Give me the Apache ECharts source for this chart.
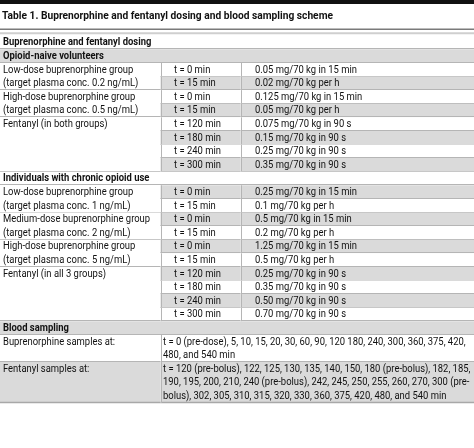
<!DOCTYPE html>
<html>
<head>
<meta charset="utf-8">
<script src="https://cdn.jsdelivr.net/npm/echarts@6/dist/echarts.min.js"></script>
<style>html,body{margin:0;padding:0;background:#fff}#c{width:474px;height:448px}</style>
</head>
<body>
<div id="c"></div>
<script>
// ---- content ----
const tableTitle = "Table 1. Buprenorphine and fentanyl dosing and blood sampling scheme";
const dosingHeader = "Buprenorphine and fentanyl dosing";
const sectionNames = ["Opioid-naive volunteers", "Individuals with chronic opioid use"];

const naiveGroups = [
  "Low-dose buprenorphine group\n(target plasma conc. 0.2 ng/mL)",
  "High-dose buprenorphine group\n(target plasma conc. 0.5 ng/mL)",
  "Fentanyl (in both groups)"
];
const naiveGroupSizes = [2, 2, 4];
const naiveTimes = ["t = 0 min", "t = 15 min", "t = 0 min", "t = 15 min", "t = 120 min", "t = 180 min", "t = 240 min", "t = 300 min"];
const naiveDoses = ["0.05 mg/70 kg in 15 min", "0.02 mg/70 kg per h", "0.125 mg/70 kg in 15 min", "0.05 mg/70 kg per h",
  "0.075 mg/70 kg in 90 s", "0.15 mg/70 kg in 90 s", "0.25 mg/70 kg in 90 s", "0.35 mg/70 kg in 90 s"];

const chronicGroups = [
  "Low-dose buprenorphine group\n(target plasma conc. 1 ng/mL)",
  "Medium-dose buprenorphine group\n(target plasma conc. 2 ng/mL)",
  "High-dose buprenorphine group\n(target plasma conc. 5 ng/mL)",
  "Fentanyl (in all 3 groups)"
];
const chronicGroupSizes = [2, 2, 2, 4];
const chronicTimes = ["t = 0 min", "t = 15 min", "t = 0 min", "t = 15 min", "t = 0 min", "t = 15 min", "t = 120 min", "t = 180 min", "t = 240 min", "t = 300 min"];
const chronicDoses = ["0.25 mg/70 kg in 15 min", "0.1 mg/70 kg per h", "0.5 mg/70 kg in 15 min", "0.2 mg/70 kg per h",
  "1.25 mg/70 kg in 15 min", "0.5 mg/70 kg per h", "0.25 mg/70 kg in 90 s", "0.35 mg/70 kg in 90 s", "0.50 mg/70 kg in 90 s", "0.70 mg/70 kg in 90 s"];

const samplingHeader = "Blood sampling";
const samplingLabels = ["Buprenorphine samples at:", "Fentanyl samples at:"];
const samplingTimes = [
  "t = 0 (pre-dose), 5, 10, 15, 20, 30, 60, 90, 120 180, 240, 300, 360, 375, 420,\n480, and 540 min",
  "t = 120 (pre-bolus), 122, 125, 130, 135, 140, 150, 180 (pre-bolus), 182, 185,\n190, 195, 200, 210, 240 (pre-bolus), 242, 245, 250, 255, 260, 270, 300 (pre-\nbolus), 302, 305, 310, 315, 320, 330, 360, 375, 420, 480, and 540 min"
];

// ---- layout (not data) ----
const FONT = 'Roboto, "Liberation Sans", sans-serif';
const FS = 11.6;
const COLX = [0, 160.5, 240.5, 474];
const TEXT_X = [3, 174, 255];
const GREY = '#dadada', LINE = '#b5b5b5', INK = '#111';

// calibrate a horizontal squeeze so the sans font mimics the condensed original
const mctx = document.createElement('canvas').getContext('2d');
function measure(str, font) { mctx.font = font; return mctx.measureText(str).width; }
const SX = 102 / measure(naiveDoses[0], FS + 'px ' + FONT);
const TFS = 11.8;
const TSX = 331 / measure(tableTitle, 'bold ' + TFS + 'px ' + FONT);

// build cells
const cells = [];
let line = 0, rowIdx = 0;
function zebra(i) { return i % 2 ? GREY : '#fff'; }
function headerRow(text) {
  cells.push({c0: 0, c1: 3, y0: line, n: 1, text, bold: true, fill: zebra(rowIdx), tx: TEXT_X[0]});
  line += 1; rowIdx += 1;
}
function section(groups, sizes, times, doses) {
  let r = 0;
  groups.forEach((g, gi) => {
    cells.push({c0: 0, c1: 1, y0: line + r, n: sizes[gi], text: g, bold: false, fill: '#fff', tx: TEXT_X[0]});
    r += sizes[gi];
  });
  times.forEach((t, i) => {
    const f = zebra(rowIdx + i);
    cells.push({c0: 1, c1: 2, y0: line + i, n: 1, text: t, bold: false, fill: f, tx: TEXT_X[1]});
    cells.push({c0: 2, c1: 3, y0: line + i, n: 1, text: doses[i], bold: false, fill: f, tx: TEXT_X[2]});
  });
  line += times.length; rowIdx += times.length;
}
headerRow(dosingHeader);
headerRow(sectionNames[0]);
section(naiveGroups, naiveGroupSizes, naiveTimes, naiveDoses);
headerRow(sectionNames[1]);
section(chronicGroups, chronicGroupSizes, chronicTimes, chronicDoses);
headerRow(samplingHeader);
samplingLabels.forEach((lab, i) => {
  const n = samplingTimes[i].split('\n').length;
  const f = zebra(rowIdx);
  const last = i === samplingLabels.length - 1;
  cells.push({c0: 0, c1: 1, y0: line, n, text: lab, bold: false, fill: f, tx: TEXT_X[0], last});
  cells.push({c0: 1, c1: 3, y0: line, n, text: samplingTimes[i], bold: false, fill: f, tx: 163, last});
  line += n; rowIdx += 1;
});
const totalLines = line;

function squeezedText(x, y, text, font, lh, sx) {
  return {
    type: 'group', x, y, scaleX: sx,
    children: [{type: 'text', x: 0, y: 0, style: {text, fill: INK, font, lineHeight: lh, verticalAlign: 'top', align: 'left'}}]
  };
}

const chart = echarts.init(document.getElementById('c'), null, {renderer: 'canvas'});
chart.setOption({
  animation: false,
  grid: {left: 0, right: 0, top: 1.7, bottom: 45.1},
  xAxis: {type: 'value', min: 0, max: 474, show: false},
  yAxis: {type: 'value', min: -2.5, max: totalLines, inverse: true, show: false},
  series: [{
    type: 'custom',
    coordinateSystem: 'cartesian2d',
    clip: false,
    data: cells.map((c, i) => [i]),
    renderItem: function (params, api) {
      const children = [];
      const lh = api.size([0, 1])[1];
      if (params.dataIndex === 0) {
        const a = api.coord([0, -2.5]), b = api.coord([474, -2.33]);
        children.push({type: 'rect', shape: {x: a[0], y: a[1] - 2, width: b[0] - a[0], height: b[1] - a[1] + 2}, style: {fill: '#111'}});
        const t = api.coord([0, -1.45]);
        children.push(squeezedText(2, t[1] - lh / 2, tableTitle, 'bold ' + TFS + 'px ' + FONT, lh, TSX));
        const d1 = api.coord([0, -0.47]), d2 = api.coord([0, -0.18]);
        children.push({type: 'line', shape: {x1: 0, y1: d1[1], x2: 474, y2: d1[1]}, style: {stroke: '#7a7a7a', lineWidth: 1.5}});
        children.push({type: 'line', shape: {x1: 0, y1: d2[1], x2: 474, y2: d2[1]}, style: {stroke: '#cfcfcf', lineWidth: 2}});
      }
      const c = cells[params.dataIndex];
      const p0 = api.coord([COLX[c.c0], c.y0]);
      const p1 = api.coord([COLX[c.c1], c.y0 + c.n]);
      children.push({type: 'rect', shape: {x: p0[0], y: p0[1], width: p1[0] - p0[0], height: p1[1] - p0[1]}, style: {fill: c.fill}});
      const yb = Math.round(p1[1]) - 0.5;
      children.push({type: 'line', shape: {x1: p0[0], y1: yb, x2: p1[0], y2: yb}, style: {stroke: c.last ? '#a8a8a8' : LINE, lineWidth: c.last ? 1.5 : 1}});
      if (c.c0 > 0) {
        const xl = Math.round(p0[0]) + 0.5;
        children.push({type: 'line', shape: {x1: xl, y1: p0[1], x2: xl, y2: p1[1]}, style: {stroke: LINE, lineWidth: 1}});
      }
      children.push(squeezedText(api.coord([0, 0])[0] + c.tx, p0[1], c.text, (c.bold ? 'bold ' : '') + FS + 'px ' + FONT, lh, SX));
      return {type: 'group', children};
    }
  }]
});
</script>
</body>
</html>
